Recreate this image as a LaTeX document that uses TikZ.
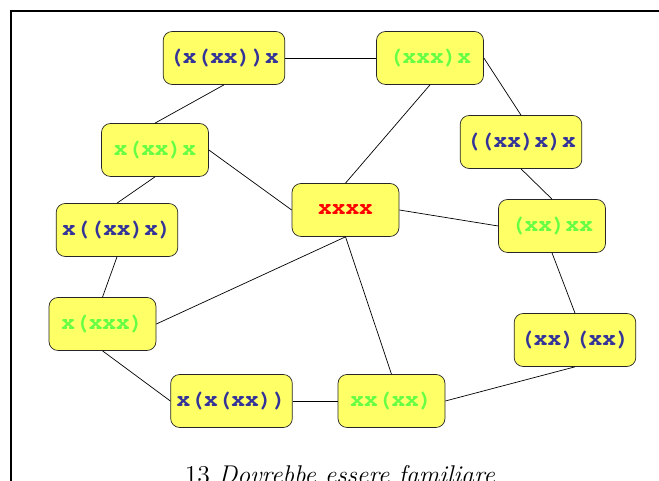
\documentclass[tikz,border=0pt]{standalone}
\usepackage{fontspec}
\newfontfamily\codefont{TeX Gyre Cursor}
\definecolor{giallo}{RGB}{255,255,102}
\definecolor{blu}{RGB}{51,51,153}
\definecolor{verde}{RGB}{102,255,68}

\begin{document}
\begin{tikzpicture}[termine/.style={rectangle, draw=black!85, fill=giallo, rounded corners=0.18cm, minimum width=2.14cm, minimum height=1.06cm, inner xsep=0.12cm, font=\codefont\bfseries\fontsize{13}{15}\selectfont}]
\useasboundingbox (0,0) rectangle (13.18,9.62);
\draw [line width=1.6pt] (0.22,-0.5) -- (0.22,9.40) -- (13.5,9.40);

\node [termine, text=blu] (a) at (4.48,8.46) {(x(xx))x};
\node [termine, text=verde] (b) at (8.60,8.46) {(xxx)x};
\node [termine, text=verde] (c) at (3.10,6.62) {x(xx)x};
\node [termine, text=blu] (d) at (10.42,6.78) {((xx)x)x};
\node [termine, text=red] (e) at (6.91,5.42) {xxxx};
\node [termine, text=verde] (f) at (11.04,5.10) {(xx)xx};
\node [termine, text=blu] (g) at (2.34,5.02) {x((xx)x)};
\node [termine, text=verde] (h) at (2.05,3.14) {x(xxx)};
\node [termine, text=blu] (i) at (11.50,2.82) {(xx)(xx)};
\node [termine, text=blu] (j) at (4.63,1.60) {x(x(xx))};
\node [termine, text=verde] (k) at (7.83,1.60) {xx(xx)};

\draw (a.east) -- (b.west);
\draw (a.south) -- (c.north);
\draw (b.east) -- (d.north);
\draw (b.south) -- (e.north);
\draw (c.east) -- (e.west);
\draw (c.south) -- (g.north);
\draw (d.south) -- (f.north);
\draw (e.east) -- (f.west);
\draw (g.south) -- (h.north);
\draw (h.east) -- (e.south);
\draw (e.south) -- (k.north);
\draw (f.south) -- (i.north);
\draw (h.south) -- (j.west);
\draw (j.east) -- (k.west);
\draw (k.east) -- (i.south);

\node [anchor=base] (didascalia) at (6.80,-0.06) {\fontsize{14.6}{17}\selectfont 13 \textit{Dovrebbe essere familiare}};
\end{tikzpicture}
\end{document}
